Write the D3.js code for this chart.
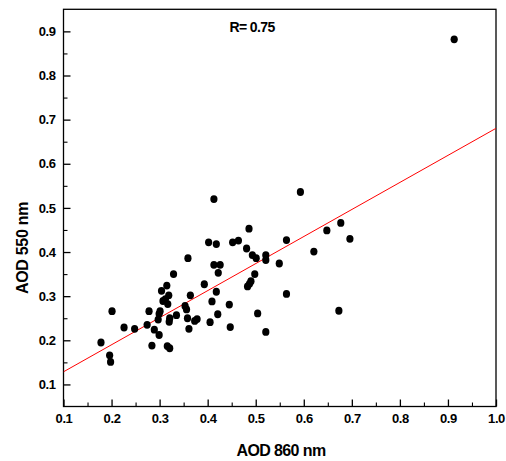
<!DOCTYPE html>
<html><head><meta charset="utf-8">
<script src="https://cdn.jsdelivr.net/npm/d3@7"></script>
<style>
html,body{margin:0;padding:0;background:#fff;}
svg{display:block;font-family:"Liberation Sans",Arial,sans-serif;}
</style></head>
<body>
<svg id="chart" width="506" height="461"></svg>
<script>
// AOD 860 nm (x) values
const aod860 = [0.913,0.593,0.413,0.486,0.677,0.648,0.696,0.564,0.402,0.418,
  0.452,0.464,0.481,0.621,0.493,0.501,0.521,0.521,0.359,0.549,
  0.413,0.426,0.422,0.329,0.498,0.490,0.483,0.393,0.315,0.304,
  0.418,0.319,0.364,0.564,0.312,0.307,0.317,0.409,0.445,0.353,
  0.356,0.301,0.278,0.201,0.673,0.504,0.421,0.335,0.299,0.297,
  0.321,0.358,0.320,0.378,0.373,0.405,0.274,0.226,0.248,0.447,
  0.361,0.289,0.299,0.521,0.178,0.284,0.316,0.321,0.196,0.198,0.487];
// AOD 550 nm (y) values
const aod550 = [0.882,0.536,0.520,0.453,0.466,0.449,0.430,0.427,0.422,0.418,
  0.422,0.426,0.408,0.401,0.393,0.386,0.393,0.382,0.386,0.374,
  0.371,0.371,0.353,0.350,0.350,0.334,0.322,0.327,0.324,0.312,
  0.310,0.302,0.302,0.305,0.293,0.289,0.282,0.288,0.281,0.278,
  0.270,0.266,0.266,0.266,0.267,0.261,0.259,0.257,0.260,0.247,
  0.250,0.250,0.242,0.248,0.244,0.241,0.235,0.229,0.226,0.230,
  0.226,0.224,0.212,0.219,0.195,0.188,0.187,0.182,0.166,0.151,0.328];
const xTicks = [0.1,0.2,0.3,0.4,0.5,0.6,0.7,0.8,0.9,1.0];
const yTicks = [0.1,0.2,0.3,0.4,0.5,0.6,0.7,0.8,0.9];
const xMinor = [0.15,0.25,0.35,0.45,0.55,0.65,0.75,0.85,0.95];
const yMinor = [0.15,0.25,0.35,0.45,0.55,0.65,0.75,0.85];
const fitSlope = 0.613, fitIntercept = 0.0673;
const rLabel = "R= 0.75";

const svg = d3.select("#chart");
const L = 63.5, R = 496, T = 9.3, B = 406.5;
const x = d3.scaleLinear().domain([0.1, 1.0]).range([L, R]);
const y = d3.scaleLinear().domain([0.05, 0.95]).range([B, T]);

// frame
svg.append("rect").attr("x", L).attr("y", T).attr("width", R - L).attr("height", B - T)
  .attr("fill", "none").attr("stroke", "#000").attr("stroke-width", 1.3);

// x axis
const xAxis = d3.axisBottom(x).tickValues(xTicks).tickSizeInner(-7).tickSizeOuter(0)
  .tickPadding(12).tickFormat(d3.format(".1f"));
const gx = svg.append("g").attr("transform", `translate(0,${B})`).call(xAxis);
gx.select(".domain").remove();
gx.selectAll("line").attr("stroke-width", 1.3);
gx.selectAll("text").attr("font-size", 13).attr("font-weight", "bold").attr("fill", "#000")
  .attr("letter-spacing", "-0.4").attr("dy", "0.71em").attr("y", 7);
const gxm = svg.append("g").attr("transform", `translate(0,${B})`)
  .call(d3.axisBottom(x).tickValues(xMinor).tickSizeInner(-4).tickSizeOuter(0).tickFormat(""));
gxm.select(".domain").remove();
gxm.selectAll("line").attr("stroke-width", 1.1);

// y axis
const yAxis = d3.axisLeft(y).tickValues(yTicks).tickSizeInner(-7).tickSizeOuter(0)
  .tickPadding(8).tickFormat(d3.format(".1f"));
const gy = svg.append("g").attr("transform", `translate(${L},0)`).call(yAxis);
gy.select(".domain").remove();
gy.selectAll("line").attr("stroke-width", 1.3);
gy.selectAll("text").attr("font-size", 13).attr("font-weight", "bold").attr("fill", "#000")
  .attr("letter-spacing", "-0.4").attr("x", -8);
const gym = svg.append("g").attr("transform", `translate(${L},0)`)
  .call(d3.axisLeft(y).tickValues(yMinor).tickSizeInner(-4).tickSizeOuter(0).tickFormat(""));
gym.select(".domain").remove();
gym.selectAll("line").attr("stroke-width", 1.1);

// regression line
const clipId = "plotclip";
svg.append("clipPath").attr("id", clipId).append("rect")
  .attr("x", L).attr("y", T).attr("width", R - L).attr("height", B - T);
const fx = [0.1, 1.0];
svg.append("line")
  .attr("x1", x(fx[0])).attr("y1", y(fitIntercept + fitSlope * fx[0]))
  .attr("x2", x(fx[1])).attr("y2", y(fitIntercept + fitSlope * fx[1]))
  .attr("stroke", "#ff0000").attr("stroke-width", 1).attr("clip-path", `url(#${clipId})`);

// points
const pts = aod860.map((v, i) => ({x: v, y: aod550[i]}));
svg.append("g").selectAll("ellipse").data(pts).join("ellipse")
  .attr("cx", d => x(d.x)).attr("cy", d => y(d.y))
  .attr("rx", 3.6).attr("ry", 3.9).attr("fill", "#000");

// labels
svg.append("text").attr("x", 252).attr("y", 32).attr("text-anchor", "middle")
  .attr("font-size", 14).attr("font-weight", "bold").attr("letter-spacing", "-0.6").text(rLabel);
svg.append("text").attr("x", 281).attr("y", 456).attr("text-anchor", "middle")
  .attr("font-size", 16).attr("font-weight", "bold").attr("letter-spacing", "-0.6").text("AOD 860 nm");
svg.append("text").attr("transform", "translate(28,248) rotate(-90)").attr("text-anchor", "middle")
  .attr("font-size", 16).attr("font-weight", "bold").attr("letter-spacing", "-0.3").text("AOD 550 nm");
</script>
</body></html>
